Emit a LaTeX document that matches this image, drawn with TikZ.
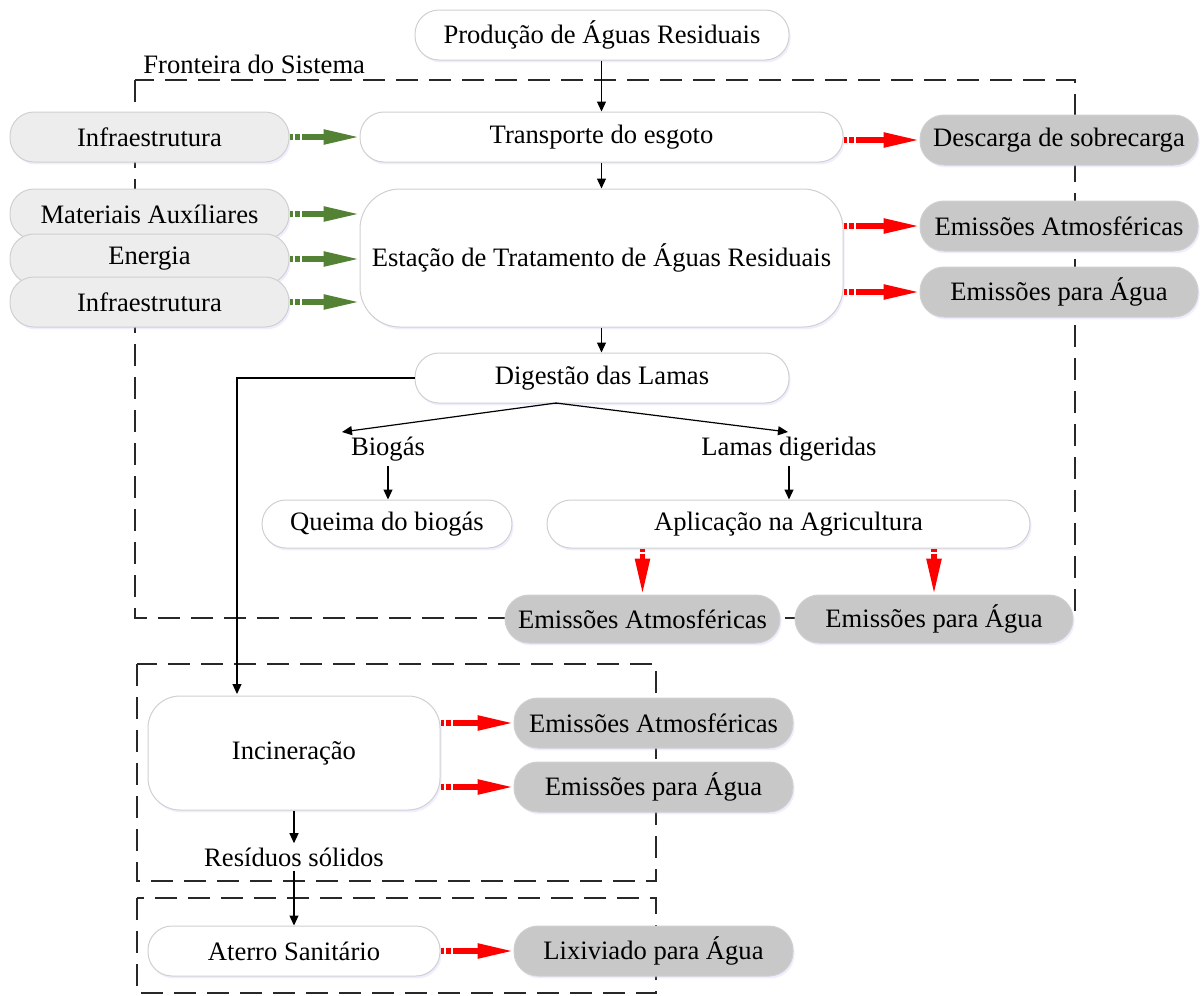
\documentclass[tikz,border=0pt]{standalone}
\usepackage{fontspec}
\setmainfont{Liberation Serif}
\usetikzlibrary{arrows.meta,shadows}
\definecolor{flowgreen}{RGB}{84,130,53}
\definecolor{flowred}{RGB}{255,0,0}
\definecolor{boxline}{RGB}{208,208,208}
\definecolor{inputfill}{RGB}{237,237,237}
\definecolor{outputfill}{RGB}{200,200,200}
\definecolor{frameline}{RGB}{40,40,40}
\begin{document}
\begin{tikzpicture}[x=0.5pt,y=-0.5pt,
  every node/.style={font=\fontsize{13.3}{15}\selectfont, inner sep=0pt},
  blk/.style={draw=boxline, line width=0.5pt, rounded corners=12pt, align=center,
    drop shadow={shadow xshift=0.8pt, shadow yshift=-1.2pt, opacity=0.22, fill=blue!30}},
  proc/.style={blk, fill=white},
  inbox/.style={blk, fill=inputfill, minimum width=139.5pt, minimum height=25pt},
  outbox/.style={blk, fill=outputfill},
  lbl/.style={inner sep=2pt},
  frame/.style={draw=frameline, line width=0.8pt, dash pattern=on 11pt off 5.5pt},
  arr/.style={line width=0.6pt, -{Triangle[length=5pt,width=4.5pt]}},
  flow/.style={line width=2.7pt, dash pattern=on 1.7pt off 0.9pt on 2.5pt off 1.2pt on 300pt,
    -{Triangle[length=18pt,width=7pt]}},
  greenflow/.style={flow, color=flowgreen},
  redflow/.style={flow, color=flowred}]
\useasboundingbox (0,0) rectangle (1201,996);

% system boundaries
\draw[frame] (135,80) rectangle (1075,618);
\node[anchor=west] (boundary) at (143,64) {Fronteira do Sistema};
\draw[frame] (137,664) rectangle (656,881);
\draw[frame] (137,898) rectangle (656,993);

% main process chain
\node[proc, minimum width=187pt, minimum height=25pt] (prod) at (602,35) {Produção de Águas Residuais};
\node[proc, minimum width=241.5pt, minimum height=25pt] (transp) at (601.5,137) {Transporte do esgoto};
\node[inbox] (infraA) at (149.5,137) {Infraestrutura};
\node[outbox, minimum width=139pt, minimum height=25pt] (desc) at (1059,140) {Descarga de sobrecarga};

\node[inbox] (mat) at (149.5,214) {Materiais Auxíliares};
\node[inbox] (ener) at (149.5,259) {Energia};
\node[inbox] (infraB) at (149.5,302) {Infraestrutura};
\node[proc, rounded corners=20pt, minimum width=241.5pt, minimum height=69pt] (etar) at (601.5,258)
  {Estação de Tratamento de Águas Residuais};
\node[outbox, minimum width=139pt, minimum height=25pt] (atmA) at (1059,226) {Emissões Atmosféricas};
\node[outbox, minimum width=139pt, minimum height=25pt] (aguaA) at (1059,292) {Emissões para Água};

\node[proc, minimum width=187pt, minimum height=25pt] (dig) at (602,378) {Digestão das Lamas};
\node[lbl] (bio) at (388,449) {Biogás};
\node[lbl] (lam) at (789,449) {Lamas digeridas};
\node[proc, minimum width=125pt, minimum height=24pt] (queima) at (387,524) {Queima do biogás};
\node[proc, minimum width=241.5pt, minimum height=24pt] (aplic) at (788.5,524) {Aplicação na Agricultura};
\node[outbox, minimum width=137.5pt, minimum height=24pt] (atmB) at (642.5,619) {Emissões Atmosféricas};
\node[outbox, minimum width=139pt, minimum height=24pt] (aguaB) at (934,619) {Emissões para Água};

% incineration and landfill
\node[proc, rounded corners=16pt, minimum width=146pt, minimum height=57pt] (incin) at (294,753) {Incineração};
\node[outbox, minimum width=139.5pt, minimum height=25pt] (atmC) at (653.5,723) {Emissões Atmosféricas};
\node[outbox, minimum width=139.5pt, minimum height=25pt] (aguaC) at (653.5,787) {Emissões para Água};
\node[lbl] (res) at (294,857) {Resíduos sólidos};
\node[proc, minimum width=146pt, minimum height=25pt] (aterro) at (294,951) {Aterro Sanitário};
\node[outbox, minimum width=139.5pt, minimum height=25pt] (lix) at (653.5,951) {Lixiviado para Água};

% helper points
\coordinate (split) at (556,403);
\coordinate (bioTip) at (342,432);
\coordinate (lamTip) at (788,432);
\coordinate (incinTop) at (237,694);

% black flow connectors
\draw[arr] (prod.south -| transp.north) -- (transp.north);
\draw[arr] (transp.south) -- (transp.south |- etar.north);
\draw[arr] (etar.south) -- (etar.south |- dig.north);
\draw[line width=0.6pt] (dig.south -| split) -- (split);
\draw[arr] (split) -- (bioTip);
\draw[arr] (split) -- (lamTip);
\draw[arr] (bio.south) -- (bio.south |- queima.north);
\draw[arr] (lam.south) -- (lam.south |- aplic.north);
\draw[arr] (dig.west) -| (incinTop);
\draw[arr] (incin.south) -- (res.north);
\draw[arr] (res.south) -- (aterro.north);

% resource inputs
\draw[greenflow] (infraA.east) -- (transp.west);
\draw[greenflow] (mat.east) -- (mat.east -| etar.west);
\draw[greenflow] (ener.east) -- (ener.east -| etar.west);
\draw[greenflow] (infraB.east) -- (infraB.east -| etar.west);

% emissions
\draw[redflow] (transp.east |- desc.west) -- (desc.west);
\draw[redflow] (etar.east |- atmA.west) -- (atmA.west);
\draw[redflow] (etar.east |- aguaA.west) -- (aguaA.west);
\draw[redflow] (aplic.south -| atmB.north) -- (atmB.north);
\draw[redflow] (aplic.south -| aguaB.north) -- (aguaB.north);
\draw[redflow] (incin.east |- atmC.west) -- (atmC.west);
\draw[redflow] (incin.east |- aguaC.west) -- (aguaC.west);
\draw[redflow] (aterro.east) -- (lix.west);
\end{tikzpicture}
\end{document}
